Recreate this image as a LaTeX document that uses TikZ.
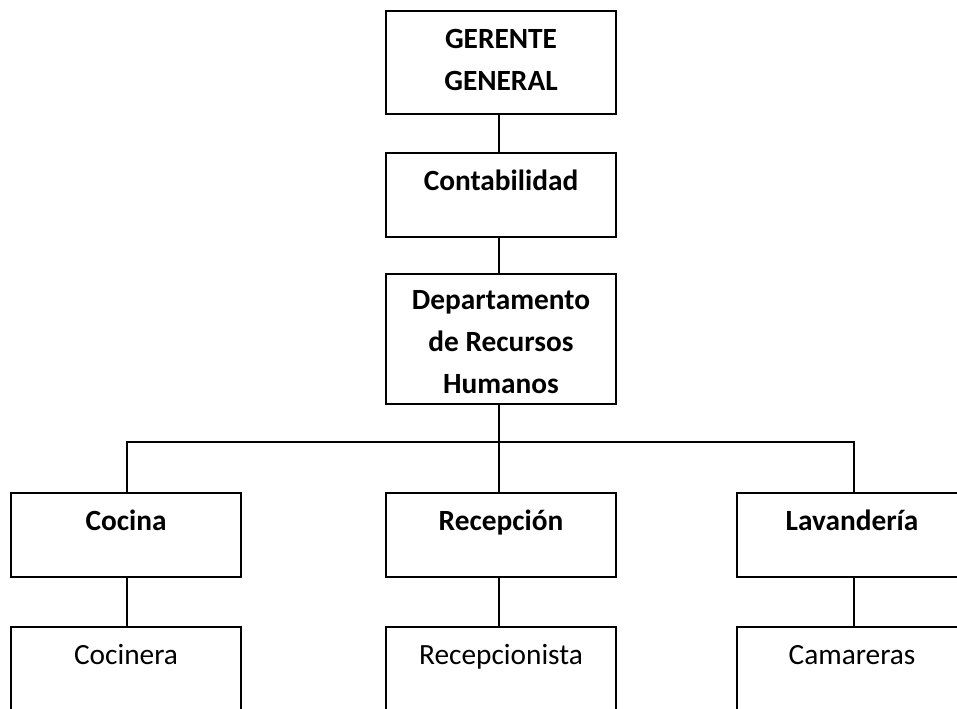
\documentclass[tikz,border=0pt]{standalone}
\usepackage{fontspec}
\setmainfont{Carlito}
\begin{document}
\begin{tikzpicture}[x=0.75pt, y=-0.75pt, line width=1.3pt,
    every node/.style={font=\fontsize{22}{31.5}\selectfont},
    orgbox/.style={draw, line width=1.3pt, inner sep=0pt, anchor=north,
      minimum width=173pt, align=center, text height=28.5pt},
    jefe/.style={orgbox, font=\fontsize{22}{31.5}\selectfont\bfseries}]
  \useasboundingbox (0,0) rectangle (957,709);
  % niveles superiores
  \node[jefe, text height=60pt, text depth=17.25pt] (ger) at (501,10)
    {GERENTE\\GENERAL};
  \node[jefe, text depth=34.5pt] (cont) at (501,152) {Contabilidad};
  \node[jefe, text height=90pt, text depth=7.5pt] (rrhh) at (501,273)
    {Departamento\\de Recursos\\Humanos};
  % areas
  \node[jefe, text depth=34.5pt] (coc) at (126,492) {Cocina};
  \node[jefe, text depth=34.5pt] (rec) at (501,492) {Recepci\'on};
  \node[jefe, text depth=34.5pt] (lav) at (852,492) {Lavander\'ia};
  % personal
  \node[orgbox, text depth=54pt] (cocn) at (126,626) {Cocinera};
  \node[orgbox, text depth=54pt] (recn) at (501,626) {Recepcionista};
  \node[orgbox, text depth=54pt] (cam) at (852,626) {Camareras};
  \coordinate (bus) at (499,442);
  \draw (ger.south -| bus) -- (cont.north -| bus);
  \draw (cont.south -| bus) -- (rrhh.north -| bus);
  \draw (rrhh.south -| bus) -- (bus);
  \draw (bus) -| ([xshift=0.75pt]coc.north);
  \draw (bus) -| ([xshift=1.5pt]lav.north);
  \draw (bus) -- (rec.north -| bus);
  \draw ([xshift=0.75pt]coc.south) -- ([xshift=0.75pt]cocn.north);
  \draw (rec.south -| bus) -- (recn.north -| bus);
  \draw ([xshift=1.5pt]lav.south) -- ([xshift=1.5pt]cam.north);
\end{tikzpicture}
\end{document}
